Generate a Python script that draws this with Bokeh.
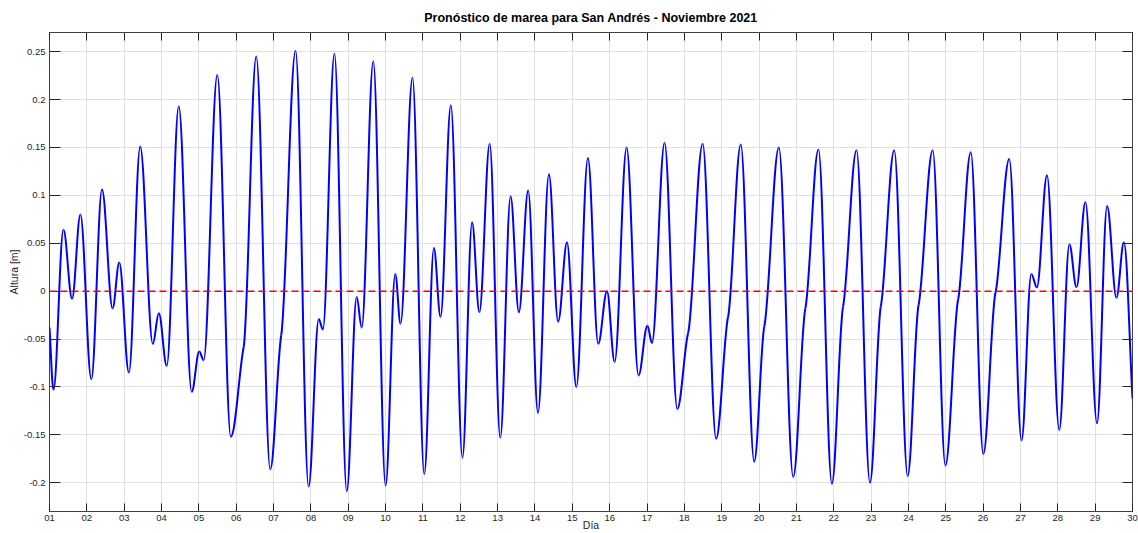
import numpy as np
from bokeh.plotting import figure
from bokeh.models import (FixedTicker, LinearAxis, Span, Range1d,
                          CustomJSTickFormatter, ColumnDataSource)
from bokeh.embed import file_html
from bokeh.resources import INLINE

# ---------------- data ----------------
# turning points / shoulders of the tide curve: day of month (fractional) and height [m]
node_day = [1.000, 1.107, 1.374, 1.605, 1.827, 2.120, 2.406, 2.690, 2.868, 3.126,
            3.429, 3.767, 3.927, 4.140, 4.461, 4.808, 5.010, 5.128, 5.493, 5.855,
            6.200, 6.536, 6.911, 7.205, 7.589, 7.938, 8.210, 8.320, 8.630, 8.960,
            9.225, 9.360, 9.670, 10.000, 10.258, 10.400, 10.720, 11.036, 11.293, 11.471,
            11.747, 12.058, 12.316, 12.511, 12.787, 13.071, 13.347, 13.569, 13.818, 14.080,
            14.373, 14.620, 14.858, 15.107, 15.418, 15.693, 15.928, 16.133, 16.453, 16.773,
            17.010, 17.133, 17.470, 17.810, 18.100, 18.490, 18.850, 19.170, 19.510, 19.870,
            20.140, 20.530, 20.915, 21.240, 21.590, 21.950, 22.250, 22.610, 22.970, 23.260,
            23.620, 23.980, 24.270, 24.650, 24.990, 25.330, 25.670, 26.005, 26.330, 26.700,
            27.030, 27.290, 27.440, 27.710, 28.040, 28.310, 28.500, 28.740, 29.050, 29.320,
            29.570, 29.770, 30.000]
node_height = [-0.038, -0.103, 0.064, -0.008, 0.080, -0.092, 0.106, -0.018, 0.030, -0.085,
               0.151, -0.055, -0.023, -0.078, 0.193, -0.105, -0.063, -0.072, 0.226, -0.152,
               -0.058, 0.245, -0.186, -0.046, 0.251, -0.204, -0.029, -0.040, 0.248, -0.209,
               -0.006, -0.038, 0.240, -0.203, 0.018, -0.034, 0.223, -0.191, 0.045, -0.027,
               0.194, -0.174, 0.072, -0.022, 0.154, -0.153, 0.099, -0.022, 0.105, -0.127,
               0.122, -0.032, 0.051, -0.100, 0.139, -0.055, 0.000, -0.074, 0.150, -0.088,
               -0.036, -0.054, 0.155, -0.123, -0.044, 0.154, -0.154, -0.027, 0.153, -0.178,
               -0.037, 0.150, -0.194, -0.018, 0.148, -0.201, -0.016, 0.147, -0.200, -0.016,
               0.147, -0.193, -0.015, 0.147, -0.182, -0.009, 0.145, -0.170, -0.002, 0.138,
               -0.156, 0.018, 0.004, 0.121, -0.145, 0.049, 0.004, 0.093, -0.138, 0.089,
               -0.007, 0.051, -0.112]

day_ticks = list(range(1, 31))
day_labels = ["01", "02", "03", "04", "05", "06", "07", "08", "09", "10",
              "11", "12", "13", "14", "15", "16", "17", "18", "19", "20",
              "21", "22", "23", "24", "25", "26", "27", "28", "29", "30"]
height_ticks = [-0.2, -0.15, -0.1, -0.05, 0.0, 0.05, 0.1, 0.15, 0.2, 0.25]
height_labels = ["-0.2", "-0.15", "-0.1", "-0.05", "0", "0.05", "0.1", "0.15", "0.2", "0.25"]
zero_level = 0.0

title_text = "Pronóstico de marea para San Andrés - Noviembre 2021"
xlabel_text = "Día"
ylabel_text = "Altura [m]"

# ---------------- smooth curve through the turning points (cubic Bezier segments) ----------------
t = np.array(node_day, dtype=float)
h = np.array(node_height, dtype=float)
n = len(t)
slope = np.zeros(n)
for i in range(1, n - 1):
    if (h[i] - h[i - 1]) * (h[i + 1] - h[i]) > 0:   # shoulder, not an extremum
        slope[i] = 0.35 * (h[i + 1] - h[i - 1]) / (t[i + 1] - t[i - 1])
slope[0] = (h[1] - h[0]) / (t[1] - t[0])
slope[-1] = (h[-1] - h[-2]) / (t[-1] - t[-2])
k = 0.36
dt = t[1:] - t[:-1]
src = ColumnDataSource(dict(
    x0=t[:-1], y0=h[:-1], x1=t[1:], y1=h[1:],
    cx0=t[:-1] + k * dt, cy0=h[:-1] + slope[:-1] * k * dt,
    cx1=t[1:] - k * dt, cy1=h[1:] - slope[1:] * k * dt,
))

FONT = "Liberation Sans"
TXT = "#262626"
Y_MIN, Y_MAX = -0.23, 0.27

p = figure(width=1138, height=533, output_backend="svg", toolbar_location=None,
           x_range=Range1d(1, 30), y_range=Range1d(Y_MIN, Y_MAX),
           min_border_left=49, min_border_right=6, min_border_top=32, min_border_bottom=22,
           background_fill_color="white", border_fill_color="white")

p.title.text = title_text
p.title.align = "center"
p.title.text_font = FONT
p.title.text_font_size = "12.5px"
p.title.text_font_style = "bold"
p.title.text_color = "black"
p.title.standoff = 16

p.outline_line_color = "#404040"
p.outline_line_width = 1

# grid
p.xgrid.ticker = FixedTicker(ticks=day_ticks)
p.ygrid.ticker = FixedTicker(ticks=height_ticks)
for g in (p.xgrid, p.ygrid):
    g.grid_line_color = "#e0e0e0"
    g.grid_line_width = 1

# bottom axis
xa = p.xaxis[0]
xa.ticker = FixedTicker(ticks=day_ticks)
xa.major_label_overrides = {d: s for d, s in zip(day_ticks, day_labels)}
xa.major_tick_in = 8
xa.major_tick_out = 0
xa.minor_tick_line_color = None
xa.axis_line_color = None
xa.major_tick_line_color = TXT
xa.major_label_standoff = 3
xa.major_label_text_font = FONT
xa.major_label_text_font_size = "9.5px"
xa.major_label_text_color = TXT
xa.axis_label = xlabel_text
xa.axis_label_standoff = -5
xa.axis_label_text_font = FONT
xa.axis_label_text_font_size = "10.5px"
xa.axis_label_text_font_style = "normal"
xa.axis_label_text_color = TXT

# left axis
ya = p.yaxis[0]
ya.ticker = FixedTicker(ticks=height_ticks)
ya.major_label_overrides = {v: s for v, s in zip(height_ticks, height_labels)}
ya.major_tick_in = 11
ya.major_tick_out = 0
ya.minor_tick_line_color = None
ya.axis_line_color = None
ya.major_tick_line_color = TXT
ya.major_label_standoff = 4
ya.major_label_text_font = FONT
ya.major_label_text_font_size = "9.5px"
ya.major_label_text_color = TXT
ya.axis_label = ylabel_text
ya.axis_label_standoff = 1
ya.axis_label_text_font = FONT
ya.axis_label_text_font_size = "10.5px"
ya.axis_label_text_font_style = "normal"
ya.axis_label_text_color = TXT

# mirrored tick marks on top and right (box style)
empty = CustomJSTickFormatter(code="return ''")
top = LinearAxis(ticker=FixedTicker(ticks=day_ticks), formatter=empty,
                 major_tick_in=8, major_tick_out=0, minor_tick_line_color=None,
                 axis_line_color=None, major_tick_line_color=TXT,
                 major_label_standoff=0, major_label_text_font_size="0px")
right = LinearAxis(ticker=FixedTicker(ticks=height_ticks), formatter=empty,
                   major_tick_in=10, major_tick_out=0, minor_tick_line_color=None,
                   axis_line_color=None, major_tick_line_color=TXT,
                   major_label_standoff=0, major_label_text_font_size="0px")
p.add_layout(top, "above")
p.add_layout(right, "right")

# tide curve
p.bezier(x0="x0", y0="y0", x1="x1", y1="y1", cx0="cx0", cy0="cy0", cx1="cx1", cy1="cy1",
         source=src, line_color="#0000ff", line_width=2)

# zero reference line
p.add_layout(Span(location=zero_level, dimension="width", line_color="#ff0000",
                  line_width=1.5, line_dash="7 4"))

open("out.html", "w").write(file_html(p, INLINE))
